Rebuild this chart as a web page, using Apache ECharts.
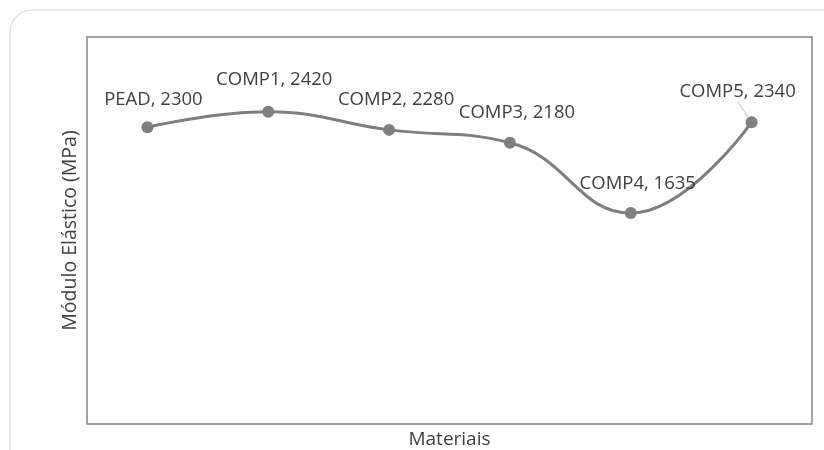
<!DOCTYPE html>
<html>
<head>
<meta charset="utf-8">
<script src="https://cdn.jsdelivr.net/npm/echarts@6/dist/echarts.min.js"></script>
<style>
  html, body { margin: 0; padding: 0; background: #ffffff; }
  #chart { width: 824px; height: 450px; }
</style>
</head>
<body>
<div id="chart"></div>
<script>
// Elastic modulus per material
const materials = ['PEAD', 'COMP1', 'COMP2', 'COMP3', 'COMP4', 'COMP5'];
const modulus = [2300, 2420, 2280, 2180, 1635, 2340];
// Where each data label sits relative to its point
const labelOffsets = [[6, -28], [6, -32], [7, -30], [7, -30], [7, -29], [-14, -30]];

const FONT = '"Open Sans", "Noto Sans", sans-serif';
const chart = echarts.init(document.getElementById('chart'));

const seriesData = modulus.map((v, i) => {
  const item = {
    value: v,
    label: { offset: labelOffsets[i] }
  };
  if (i === 5) {
    item.labelLine = { show: true, lineStyle: { color: '#bfbfbf', width: 1 } };
  }
  return item;
});

chart.setOption({
  animation: false,
  backgroundColor: '#ffffff',
  graphic: [{
    type: 'rect',
    z: -10,
    shape: { x: 10, y: 10, width: 840, height: 470, r: 22 },
    style: { fill: '#ffffff', stroke: '#d9d9d9', lineWidth: 1.2 }
  }],
  grid: {
    left: 87, right: 12, top: 37, bottom: 26,
    outerBoundsMode: 'none',
    containLabel: false,
    show: true,
    borderColor: '#868686',
    borderWidth: 1.5,
    backgroundColor: 'transparent'
  },
  xAxis: {
    type: 'category',
    data: materials,
    boundaryGap: true,
    name: 'Materiais',
    nameLocation: 'middle',
    nameGap: 6,
    nameTextStyle: { fontFamily: FONT, fontSize: 19, color: '#404040' },
    axisLine: { show: false },
    axisTick: { show: false },
    axisLabel: { show: false },
    splitLine: { show: false }
  },
  yAxis: {
    type: 'value',
    min: 0,
    max: 3000,
    name: 'Módulo Elástico (MPa)',
    nameLocation: 'middle',
    nameGap: 7,
    nameTextStyle: { fontFamily: FONT, fontSize: 19.5, color: '#404040' },
    axisLine: { show: false },
    axisTick: { show: false },
    axisLabel: { show: false },
    splitLine: { show: false }
  },
  series: [{
    type: 'line',
    data: seriesData,
    smooth: 0.45,
    symbol: 'circle',
    symbolSize: 12,
    itemStyle: { color: '#7f7f7f' },
    lineStyle: { color: '#7f7f7f', width: 3 },
    label: {
      show: true,
      position: 'inside',
      fontFamily: FONT,
      fontSize: 18.5,
      color: '#404040',
      formatter: p => materials[p.dataIndex] + ', ' + p.value
    }
  }]
});
</script>
</body>
</html>
